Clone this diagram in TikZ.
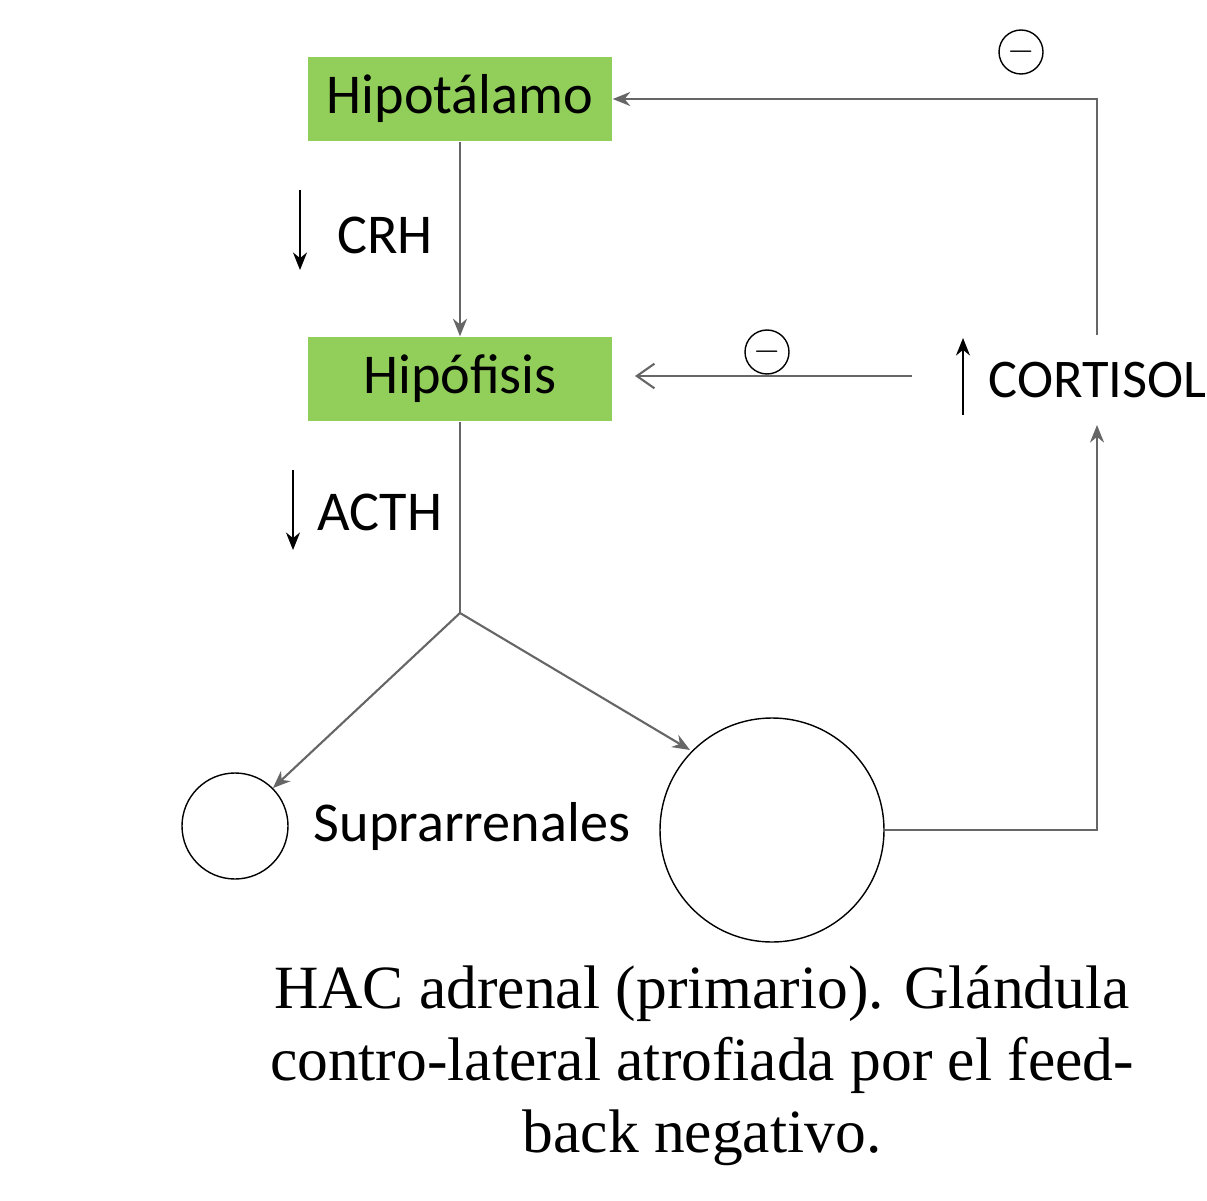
\documentclass[tikz,border=0pt]{standalone}
\usepackage{fontspec}
\setmainfont{Carlito}
\newfontfamily\capfont{Liberation Serif}
\usetikzlibrary{arrows.meta}
\definecolor{glandgreen}{HTML}{92CF5A}
\begin{document}
\begin{tikzpicture}[
    organ/.style={fill=glandgreen, minimum width=3.04cm, minimum height=0.84cm, font=\fontsize{16}{18}\selectfont},
    lbl/.style={font=\fontsize{16}{18}\selectfont},
    conn/.style={draw=black!60, line width=0.6pt},
    tip/.style={-{Stealth[length=5pt,width=4pt]}},
    minus/.style={circle, draw, inner sep=0pt, minimum size=0.44cm}
]
    \useasboundingbox (0,0) rectangle (12.07,12);

    \node[organ] (Hipot) at (4.60, 11.01) {Hipotálamo};
    \node[organ] (Hipof) at (4.60, 8.21) {Hipófisis};
    \coordinate (J) at (4.60, 5.87); % junction
    \node[circle, draw, minimum size=1.06cm] (Small) at (2.35, 3.74) {};
    \node[circle, draw, minimum size=2.24cm] (Big) at (7.72, 3.70) {};
    \node[lbl] (Supra) at (4.72, 3.74) {Suprarrenales};
    \node[lbl, anchor=west, font=\fontsize{15.5}{18}\selectfont] (Cort) at (9.76, 8.20) {CORTISOL};
    \coordinate (Cbot) at (10.97, 7.75);
    \coordinate (Ctop) at (10.97, 8.65);
    \coordinate (Bcorner) at (10.97, 3.70);

    % main path
    \draw[conn, tip] (Hipot) -- (Hipof);
    \draw[conn] (Hipof) -- (J);
    \draw[conn, tip] (J) -- (Small.north east);
    \draw[conn, tip] (J) -- (6.90, 4.50);
    \draw[conn, tip] (Big.east) -- (Bcorner) -- (Cbot);
    \draw[conn, tip] (Ctop) -- (10.97, 9.00) |- (Hipot.east);

    % feedback to Hipofisis
    \draw[conn, -{Straight Barb[length=5pt,width=7pt]}] (9.12, 8.24) -- (6.35, 8.24);
    \node[minus] (M1) at (7.67, 8.48) {$-$};
    \node[minus] (M2) at (10.21, 11.48) {$-$};

    % hormone labels
    \draw[tip] (3.00, 10.10) -- (3.00, 9.30);
    \node[lbl, anchor=west] (CRH) at (3.25, 9.65) {CRH};
    \draw[tip] (2.93, 7.30) -- (2.93, 6.50);
    \node[lbl, anchor=west] (ACTH) at (3.05, 6.88) {ACTH};
    \draw[tip] (9.63, 7.85) -- (9.63, 8.62);

    \node[font=\capfont\fontsize{17.5}{20.5}\selectfont, align=center] (Caption) at (7.02, 1.34)
        {HAC adrenal (primario). Glándula\\contro-lateral atrofiada por el feed-\\back negativo.};
\end{tikzpicture}
\end{document}
